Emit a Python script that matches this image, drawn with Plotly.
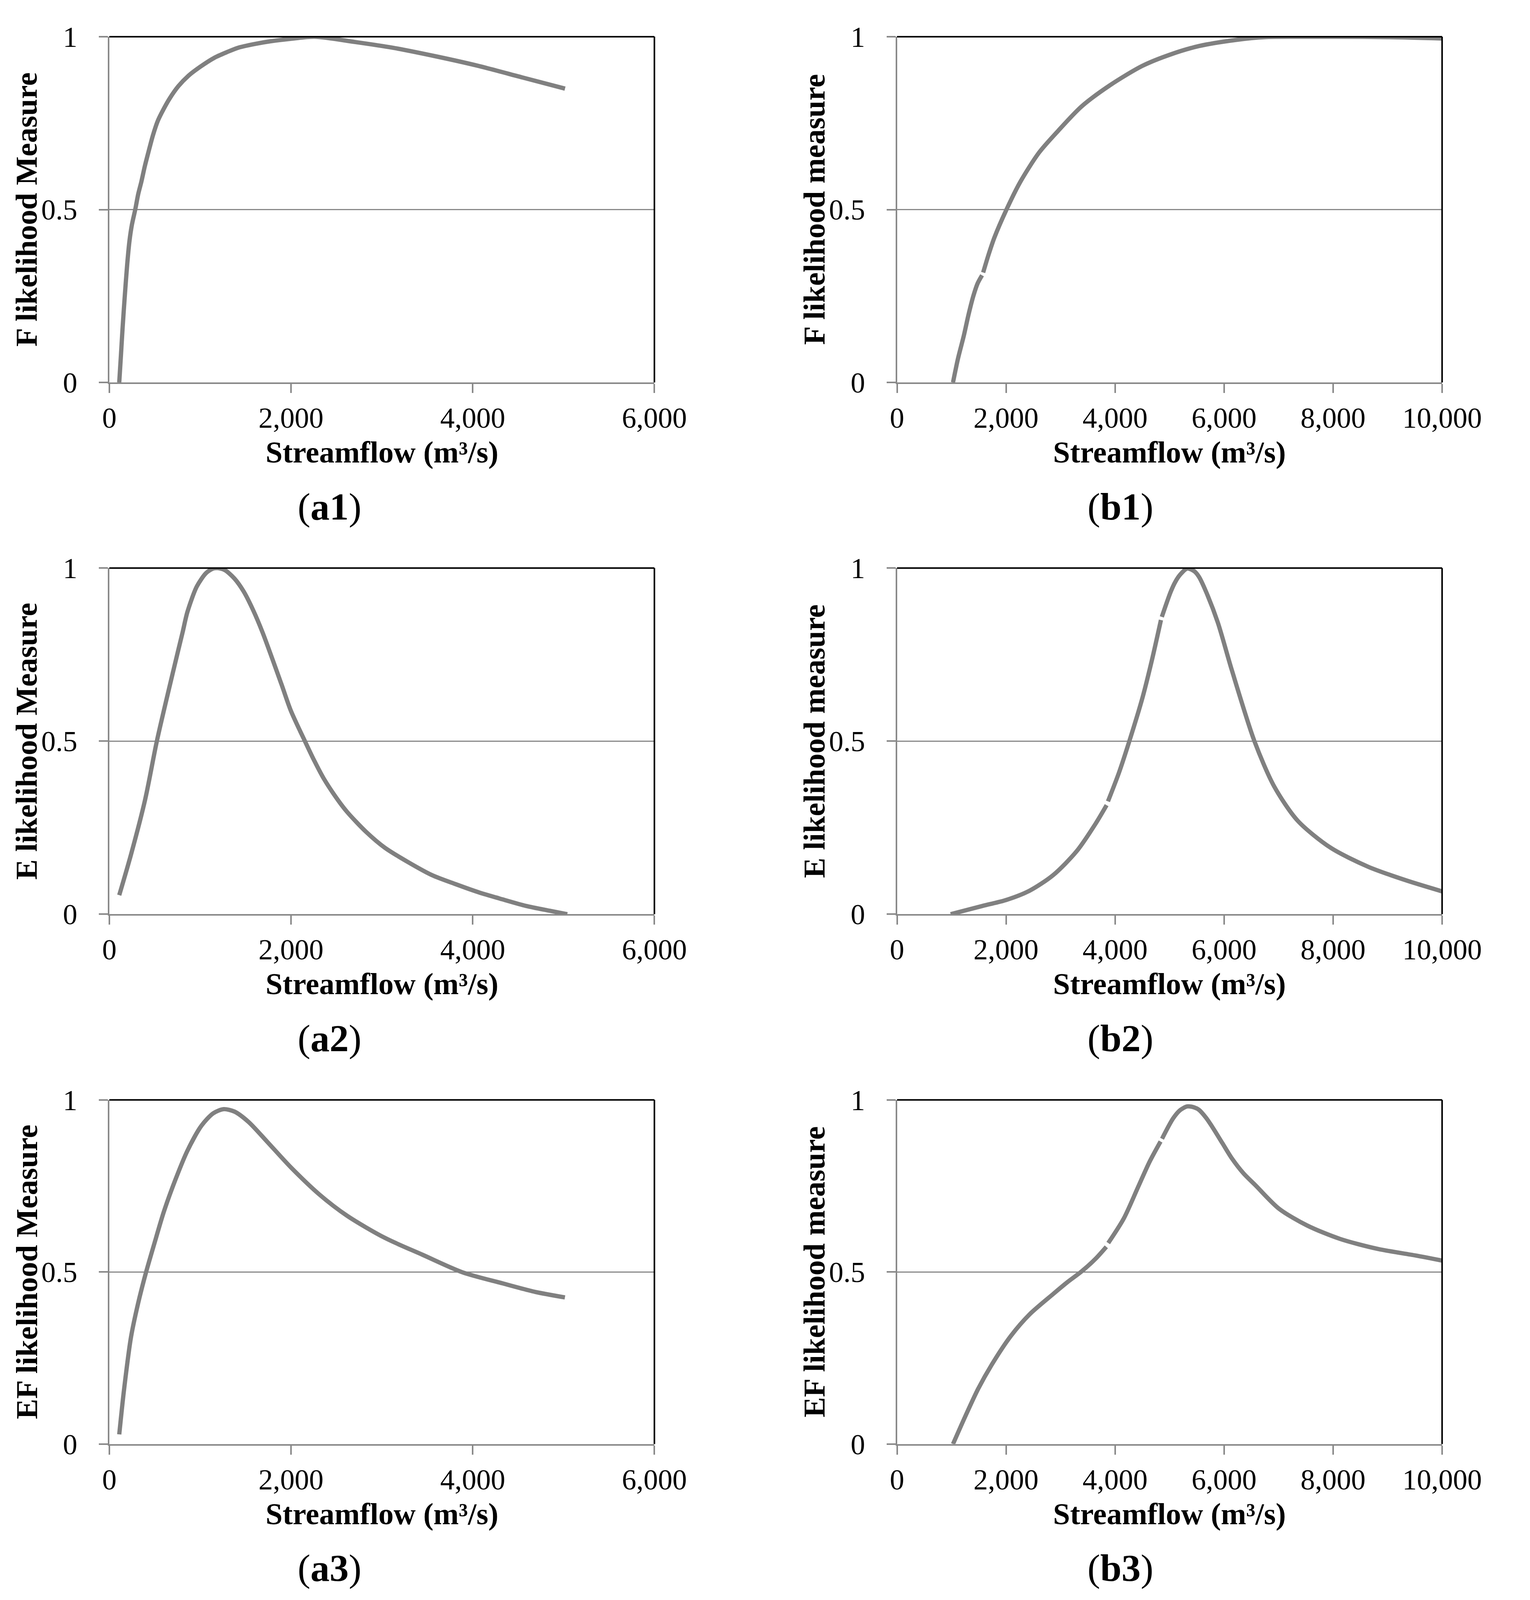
import plotly.graph_objects as go

W, H = 3917, 4118
PAGE_MARGIN = 8  # the browser's default body margin shifts the figure

# ---- data (streamflow in m3/s, likelihood 0-1) ----
# None marks the small breaks that show up in the original lines
a1_x = [109, 128, 145, 170, 197, 222, 249, 285, 318, 352, 390, 430, 480, 534, 600, 663, 760, 870, 1000, 1155, 1290, 1415, 1600, 1777, 2000, 2259, 2700, 3124, 3600, 4057, 4550, 5016]
a1_y = [0.0, 0.08, 0.154, 0.25, 0.343, 0.41, 0.457, 0.5, 0.545, 0.58, 0.625, 0.666, 0.715, 0.757, 0.792, 0.821, 0.857, 0.887, 0.913, 0.939, 0.955, 0.968, 0.979, 0.987, 0.994, 1.0, 0.985, 0.968, 0.943, 0.916, 0.882, 0.85]

b1_x = [1027, 1120, 1225, 1310, 1398, 1480, 1560, None, 1580, 1680, 1786, 2002, 2261, 2606, 2951, 3383, 3900, 4504, 5022, 5539, 6229, 6747, 7400, 8041, 8990, 10000]
b1_y = [0.0, 0.07, 0.135, 0.195, 0.249, 0.287, 0.31, None, 0.318, 0.37, 0.419, 0.498, 0.58, 0.665, 0.727, 0.798, 0.859, 0.916, 0.949, 0.973, 0.991, 0.999, 1.0, 1.0, 0.999, 0.995]

a2_x = [109, 238, 393, 523, 652, 756, 807, 859, 963, 1066, 1144, 1196, 1273, 1377, 1480, 1584, 1687, 1894, 1998, 2153, 2257, 2360, 2516,
        2619, 2826, 3033, 3292, 3551, 3810, 4068, 4327, 4586, 4845, 5041]
a2_y = [0.055, 0.172, 0.33, 0.5, 0.646, 0.76, 0.815, 0.873, 0.947, 0.986, 0.999, 1.0, 0.994, 0.97, 0.932, 0.878, 0.814, 0.665, 0.588, 0.5, 0.443, 0.392, 0.33,
        0.295, 0.238, 0.192, 0.15, 0.113, 0.087, 0.063, 0.043, 0.024, 0.01, 0.0]

b2_x = [984, 1570, 2002, 2433, 2865, 3296, 3641, 3845, None, 3870, 4072, 4262, 4504, 4676, 4842, None, 4858,
        5022, 5108, 5194, 5324, 5453, 5539, 5669, 5885, 6143, 6557, 6920, 7351, 7955, 8645, 9336, 10000]
b2_y = [0.0, 0.024, 0.041, 0.068, 0.113, 0.182, 0.261, 0.315, None, 0.326, 0.409, 0.5, 0.626, 0.734, 0.85, None, 0.859,
        0.932, 0.961, 0.981, 0.999, 0.991, 0.975, 0.932, 0.843, 0.705, 0.5, 0.369, 0.27, 0.192, 0.137, 0.098, 0.066]

a3_x = [109, 160, 238, 316, 404, 497, 600, 730, 859, 1014, 1144, 1258, 1377, 1532, 1739, 1998, 2308, 2619, 3033, 3447, 3887, 4327, 4689, 5015]
a3_y = [0.028, 0.154, 0.31, 0.408, 0.499, 0.584, 0.675, 0.77, 0.852, 0.925, 0.961, 0.973, 0.966, 0.936, 0.878, 0.804, 0.726, 0.663, 0.599, 0.55, 0.499, 0.467, 0.442, 0.426]

b3_x = [1027, 1225, 1484, 1743, 2088, 2433, 2865, 3123, 3382, 3641, 3840, None, 3875, 4159, 4418, 4633, 4835, None, 4862,
        5065, 5194, 5324, 5453, 5539, 5669, 5798, 5970, 6143, 6359, 6575, 7006, 7524, 8128, 8818, 9508, 10000]
b3_y = [0.0, 0.071, 0.159, 0.232, 0.314, 0.377, 0.436, 0.47, 0.501, 0.538, 0.573, None, 0.584, 0.655, 0.745, 0.82, 0.879, None, 0.887,
        0.946, 0.97, 0.981, 0.978, 0.971, 0.948, 0.918, 0.874, 0.83, 0.786, 0.752, 0.684, 0.635, 0.596, 0.567, 0.548, 0.533]

a_ticks = [0, 2000, 4000, 6000]
a_ticktext = ["0", "2,000", "4,000", "6,000"]
b_ticks = [0, 2000, 4000, 6000, 8000, 10000]
b_ticktext = ["0", "2,000", "4,000", "6,000", "8,000", "10,000"]
y_ticks = [0, 0.5, 1]
y_ticktext = ["0", "0.5", "1"]

panels = [
    # row, col, x, y, xmax, ticks, ticktext, y title, label
    (0, 0, a1_x, a1_y, 6000, a_ticks, a_ticktext, "F likelihood Measure", "a1"),
    (0, 1, b1_x, b1_y, 10000, b_ticks, b_ticktext, "F likelihood measure", "b1"),
    (1, 0, a2_x, a2_y, 6000, a_ticks, a_ticktext, "E likelihood Measure", "a2"),
    (1, 1, b2_x, b2_y, 10000, b_ticks, b_ticktext, "E likelihood measure", "b2"),
    (2, 0, a3_x, a3_y, 6000, a_ticks, a_ticktext, "EF likelihood Measure", "a3"),
    (2, 1, b3_x, b3_y, 10000, b_ticks, b_ticktext, "EF likelihood measure", "b3"),
]

# plot-area pixel boxes in the 3917x4118 picture (page coordinates)
COLS = [(269, 1709), (2350, 3790)]
ROWS = [(55, 958), (1443, 2347), (2832, 3731)]
LABEL_X = [851, 2940]

FONT = "Liberation Serif"
AXIS_GREY = "#898989"
LINE_GREY = "#808080"

FW, FH = W - PAGE_MARGIN, H - PAGE_MARGIN


def px_x(p):
    return (p - PAGE_MARGIN) / FW


def px_y(p):
    return 1 - (p - PAGE_MARGIN) / FH


fig = go.Figure()
annotations = []
shapes = []

for i, (r, c, xs, ys, xmax, ticks, ticktext, ytitle, label) in enumerate(panels):
    n = "" if i == 0 else str(i + 1)
    x0, x1 = COLS[c]
    y0, y1 = ROWS[r]

    fig.add_trace(go.Scatter(x=xs, y=ys, mode="lines", xaxis="x" + n, yaxis="y" + n,
                             line=dict(color=LINE_GREY, width=11, shape="spline", smoothing=0.8),
                             showlegend=False, hoverinfo="skip"))

    fig.layout["xaxis" + n] = dict(
        domain=[px_x(x0), px_x(x1)], anchor="y" + n, range=[0, xmax],
        tickvals=ticks, ticktext=ticktext, showgrid=False, zeroline=False,
        showline=True, linecolor=AXIS_GREY, linewidth=4,
        ticks="outside", ticklen=23, tickwidth=4, tickcolor=AXIS_GREY,
        tickfont=dict(family=FONT, size=74, color="black"), fixedrange=True)
    fig.layout["yaxis" + n] = dict(
        domain=[px_y(y1), px_y(y0)], anchor="x" + n, range=[0, 1],
        tickvals=y_ticks, ticktext=y_ticktext, showgrid=True, gridcolor=AXIS_GREY,
        gridwidth=3, zeroline=False, showline=True, linecolor=AXIS_GREY, linewidth=4,
        ticks="outside", ticklen=23, tickwidth=4, tickcolor=AXIS_GREY, ticklabelstandoff=40,
        tickfont=dict(family=FONT, size=74, color="black"), fixedrange=True)

    # black frame on top and right of the plot area
    shapes.append(dict(type="line", xref="x" + n + " domain", yref="y" + n + " domain",
                       x0=0, x1=1, y0=1, y1=1, line=dict(color="black", width=4), layer="above"))
    shapes.append(dict(type="line", xref="x" + n + " domain", yref="y" + n + " domain",
                       x0=1, x1=1, y0=0, y1=1, line=dict(color="black", width=4), layer="above"))

    # axis titles and panel label
    annotations.append(dict(text="<b>Streamflow (m³/s)</b>", xref="paper", yref="paper",
                            x=px_x((x0 + x1) / 2), y=px_y(y1 + 182), xanchor="center", yanchor="middle",
                            showarrow=False, font=dict(family=FONT, size=78, color="black")))
    annotations.append(dict(text="<b>" + ytitle + "</b>", xref="paper", yref="paper", textangle=-90,
                            x=px_x(x0 - 219), y=px_y((y0 + y1) / 2), xanchor="center", yanchor="middle",
                            showarrow=False, font=dict(family=FONT, size=78, color="black")))
    annotations.append(dict(text="(<b>" + label + "</b>)", xref="paper", yref="paper",
                            x=px_x(LABEL_X[c]), y=px_y(y1 + 324), xanchor="center", yanchor="middle",
                            showarrow=False, font=dict(family=FONT, size=98, color="black")))

fig.update_layout(width=FW, height=FH, margin=dict(l=0, r=0, t=0, b=0),
                  paper_bgcolor="white", plot_bgcolor="white",
                  annotations=annotations, shapes=shapes, showlegend=False)

fig.write_html("out.html", config={"displayModeBar": False})
